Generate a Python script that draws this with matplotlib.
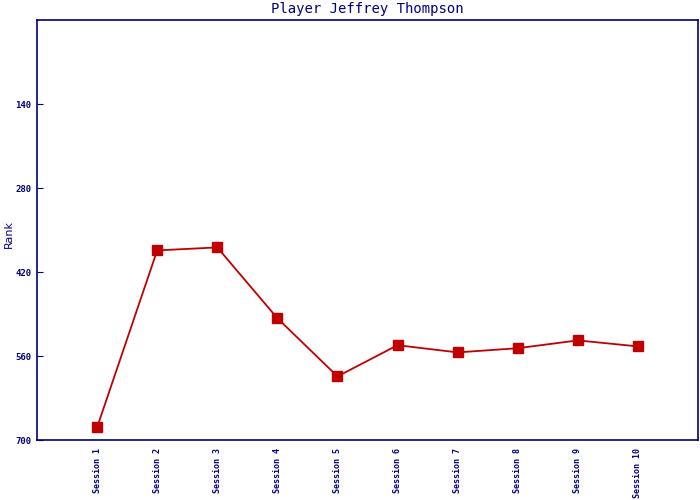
import matplotlib
matplotlib.use("Agg")
import matplotlib.pyplot as plt

sessions = ["Session 1", "Session 2", "Session 3", "Session 4", "Session 5",
            "Session 6", "Session 7", "Session 8", "Session 9", "Session 10"]
ranks = [679, 384, 379, 497, 594, 542, 554, 547, 534, 544]
y_ticks = [140, 280, 420, 560, 700]

navy = "#000080"
red = "#C00000"

fig = plt.figure(figsize=(7, 5), dpi=100)
ax = fig.add_axes([37/700, 60/500, 661/700, 420/500])

x = list(range(1, len(sessions) + 1))
ax.plot(x, ranks, color=red, linewidth=1.3, marker="s", markersize=7,
        markerfacecolor=red, markeredgecolor=red)

ax.set_xlim(0, 11)
ax.set_ylim(700, 0)
ax.set_yticks(y_ticks)
ax.set_yticklabels([str(t) for t in y_ticks], fontfamily="DejaVu Sans Mono",
                   fontsize=6.5, color=navy, fontweight="bold")
ax.set_xticks(x)
ax.set_xticklabels(sessions, rotation=90, fontfamily="DejaVu Sans Mono",
                   fontsize=6, color=navy, fontweight="bold", va="top")
ax.tick_params(axis="y", direction="in", length=4, color=navy, pad=4)
ax.tick_params(axis="x", length=0, pad=6)

for s in ax.spines.values():
    s.set_color(navy)
    s.set_linewidth(1.2)

ax.set_ylabel("Rank", color=navy, fontsize=8)
ax.yaxis.label.set_va("center")
ax.yaxis.set_label_coords(-0.043, 0.49)
ax.set_title("Player Jeffrey Thompson", color=navy, fontfamily="DejaVu Sans Mono",
             fontsize=10, pad=5)

fig.savefig("out.png", dpi=100)
